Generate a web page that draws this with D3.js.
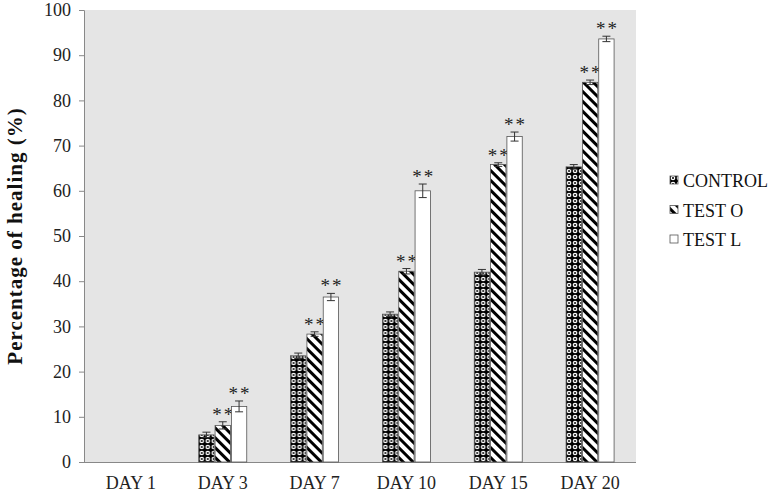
<!DOCTYPE html>
<html>
<head>
<meta charset="utf-8">
<script src="https://cdn.jsdelivr.net/npm/d3@7"></script>
<style>
  body { margin: 0; background: #fff; }
  svg text { font-family: "Liberation Serif", "Times New Roman", Times, serif; }
</style>
</head>
<body>
<svg id="chart"></svg>
<script>
// data
var days = ['DAY 1', 'DAY 3', 'DAY 7', 'DAY 10', 'DAY 15', 'DAY 20'];
var groups = ['CONTROL', 'TEST O', 'TEST L'];
var control = [0, 6.0, 23.5, 32.7, 42.0, 65.3];
var testO   = [0, 8.1, 28.3, 42.2, 65.8, 84.0];
var testL   = [0, 12.3, 36.5, 60.0, 72.0, 93.6];
var errControl = [0, 0.6, 0.6, 0.5, 0.6, 0.5];
var errTestO   = [0, 0.8, 0.5, 0.6, 0.4, 0.5];
var errTestL   = [0, 1.2, 0.8, 1.5, 1.0, 0.6];
var yTicks = [0, 10, 20, 30, 40, 50, 60, 70, 80, 90, 100];

var width = 774, height = 494;
var margin = {top: 10, right: 138, bottom: 32, left: 85};
var serif = '"Liberation Serif", "Times New Roman", Times, serif';

var svg = d3.select('#chart')
    .attr('width', width)
    .attr('height', height);

var defs = svg.append('defs');

// control: white rings on black
var pc = defs.append('pattern')
    .attr('id', 'pat-control')
    .attr('patternUnits', 'userSpaceOnUse')
    .attr('width', 6).attr('height', 6);
pc.append('rect').attr('width', 6).attr('height', 6).attr('fill', '#000');
pc.append('circle').attr('cx', 3).attr('cy', 3).attr('r', 2.3).attr('fill', '#fff');
pc.append('circle').attr('cx', 3).attr('cy', 3).attr('r', 1).attr('fill', '#000');

// test O: thick diagonal stripes (top-left to bottom-right)
var po = defs.append('pattern')
    .attr('id', 'pat-testo')
    .attr('patternUnits', 'userSpaceOnUse')
    .attr('width', 7).attr('height', 7)
    .attr('patternTransform', 'rotate(45)');
po.append('rect').attr('width', 7).attr('height', 7).attr('fill', '#fff');
po.append('rect').attr('width', 7).attr('height', 3).attr('fill', '#000');

var fills = ['url(#pat-control)', 'url(#pat-testo)', '#fff'];

var x0 = d3.scaleBand()
    .domain(days)
    .range([margin.left, width - margin.right]);

var x1 = d3.scaleBand()
    .domain(groups)
    .range([0, 48])
    .paddingInner(0.06);

var y = d3.scaleLinear()
    .domain([0, 100])
    .range([height - margin.bottom, margin.top]);

// plot background
svg.append('rect')
    .attr('x', margin.left)
    .attr('y', margin.top)
    .attr('width', width - margin.right - margin.left)
    .attr('height', height - margin.bottom - margin.top)
    .attr('fill', '#e5e5e5');

// y axis
var yAxis = svg.append('g')
    .attr('transform', 'translate(' + (margin.left - 1) + ',0)')
    .call(d3.axisLeft(y).tickValues(yTicks).tickSize(5).tickPadding(8));
yAxis.select('.domain').attr('stroke', '#888');
yAxis.selectAll('.tick line').attr('stroke', '#888');
yAxis.selectAll('.tick text')
    .attr('fill', '#222')
    .style('font-size', '18px')
    .style('font-family', serif);

// x axis
var xAxis = svg.append('g')
    .attr('transform', 'translate(0,' + (height - margin.bottom) + ')')
    .call(d3.axisBottom(x0).tickSize(0).tickPadding(14).tickSizeOuter(0));
xAxis.select('.domain').attr('stroke', '#888')
    .attr('d', 'M' + (margin.left - 6) + ',0.5H' + (width - margin.right));
xAxis.selectAll('.tick text')
    .attr('fill', '#222')
    .style('font-size', '18px')
    .style('font-family', serif);

// y title
svg.append('text')
    .attr('transform', 'translate(22,' + ((margin.top + height - margin.bottom) / 2) + ') rotate(-90)')
    .attr('text-anchor', 'middle')
    .style('font-size', '21px')
    .style('font-weight', 'bold')
    .style('letter-spacing', '1px')
    .style('font-family', serif)
    .attr('fill', '#111')
    .text('Percentage of healing (%)');

// bars
var series = [control, testO, testL];
var errs = [errControl, errTestO, errTestL];
var rows = [];
days.forEach(function(d, i) {
    groups.forEach(function(g, j) {
        rows.push({day: d, group: g, gi: j, value: series[j][i], err: errs[j][i], star: j > 0 && i > 0});
    });
});

var off = (x0.bandwidth() - 48) / 2;

var bar = svg.append('g').selectAll('g')
    .data(rows.filter(function(r) { return r.value > 0; }))
    .enter().append('g')
    .attr('transform', function(d) { return 'translate(' + (x0(d.day) + off + x1(d.group)) + ',0)'; });

bar.append('rect')
    .attr('x', 0)
    .attr('y', function(d) { return y(d.value); })
    .attr('width', x1.bandwidth())
    .attr('height', function(d) { return y(0) - y(d.value); })
    .attr('fill', function(d) { return fills[d.gi]; })
    .attr('stroke', '#555')
    .attr('stroke-width', 0.8);

// error bars
var cx = x1.bandwidth() / 2;
bar.append('path')
    .attr('d', function(d) {
        var t = y(d.value + d.err), b = y(d.value - d.err);
        return 'M' + (cx - 4) + ',' + t + 'H' + (cx + 4) +
               'M' + cx + ',' + t + 'V' + b +
               'M' + (cx - 4) + ',' + b + 'H' + (cx + 4);
    })
    .attr('stroke', '#333')
    .attr('stroke-width', 1)
    .attr('fill', 'none');

bar.filter(function(d) { return d.star; })
    .append('text')
    .attr('x', cx + 1)
    .attr('y', function(d) { return y(d.value + d.err) - 1; })
    .attr('text-anchor', 'middle')
    .style('font-size', '19px')
    .style('letter-spacing', '2px')
    .style('font-family', serif)
    .attr('fill', '#222')
    .text('**');

// legend
var legend = svg.append('g')
    .attr('transform', 'translate(670,0)');
var item = legend.selectAll('g')
    .data(groups)
    .enter().append('g')
    .attr('transform', function(d, i) { return 'translate(0,' + (187 + i * 29.5) + ')'; });
item.append('rect')
    .attr('x', 0).attr('y', -11)
    .attr('width', 8).attr('height', 8)
    .attr('fill', function(d, i) { return fills[i]; })
    .attr('stroke', '#555')
    .attr('stroke-width', 0.8);
item.append('text')
    .attr('x', 13)
    .attr('y', 0)
    .style('font-size', '18px')
    .style('font-family', serif)
    .attr('fill', '#111')
    .text(function(d) { return d; });
</script>
</body>
</html>
